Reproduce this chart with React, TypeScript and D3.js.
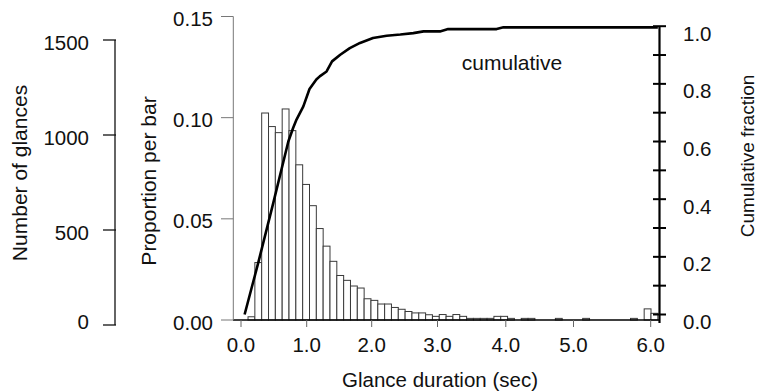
import React from "react";
import * as d3 from "d3";

// Histogram: proportion of glances per 0.1 s bin (bins start at 0.1 s)
const FIRST_BIN = 0.1;
const BIN_WIDTH = 0.1;
const proportions = [
  0.0016, 0.0284, 0.1023, 0.0956, 0.0926, 0.1043, 0.0936, 0.0767, 0.067, 0.0565,
  0.0452, 0.0365, 0.029, 0.022, 0.0196, 0.0168, 0.0158, 0.0105, 0.0097, 0.0079,
  0.0079, 0.0062, 0.0053, 0.0042, 0.0035, 0.0035, 0.0026, 0.0018, 0.0027, 0.0018,
  0.0027, 0.0018, 0.0008, 0.0008, 0.0008, 0.0008, 0.0018, 0.0018, 0.0008, 0,
  0.0008, 0.0008, 0, 0, 0, 0.0008, 0, 0, 0, 0.0008,
  0, 0, 0, 0, 0, 0, 0.0008, 0, 0.0055, 0.0033,
];

// Cumulative curve as drawn
const cumSec = [0.05, 0.25, 0.47, 0.69, 0.76, 0.81, 0.91, 1.0, 1.1, 1.15, 1.25, 1.33, 1.45, 1.59, 1.74, 1.93, 2.13, 2.33, 2.52, 2.67, 2.91, 3.03, 3.74, 3.84, 6.1];
const cumFrac = [0.0, 0.18, 0.387, 0.6, 0.647, 0.676, 0.722, 0.782, 0.815, 0.826, 0.843, 0.878, 0.901, 0.924, 0.942, 0.959, 0.967, 0.971, 0.976, 0.982, 0.982, 0.99, 0.99, 0.996, 0.996];

// Tick labels
const xTicks = [0, 1, 2, 3, 4, 5, 6];
const propTicks = [0, 0.05, 0.1, 0.15];
const countTicks = [0, 500, 1000, 1500];
const cumMajor = [0, 0.2, 0.4, 0.6, 0.8, 1.0];
const cumMinor = [0, 0.1, 0.2, 0.3, 0.4, 0.5, 0.6, 0.7, 0.8, 0.9, 1.0];

const W = 757;
const H = 391;
const FONT = "'Liberation Sans', Arial, Helvetica, sans-serif";

export default function App() {
  const xBar = d3.scaleLinear().domain([0, 6]).range([241.2, 651]);
  // the printed axis ticks are unevenly spaced in the reference
  const xTick = d3.scaleLinear().domain(xTicks).range([241, 306.7, 371.7, 437.5, 505.8, 573.5, 650.7]);
  const yProp = d3.scaleLinear().domain([0, 0.15]).range([320, 16.5]);
  const yCount = d3.scaleLinear().domain([0, 1500]).range([325, 40]);
  const yCum = d3.scaleLinear().domain([0, 1]).range([314.5, 26.2]);

  const line = d3
    .line<number>()
    .x((_, i) => xBar(cumSec[i]))
    .y((d) => yCum(d))
    .curve(d3.curveLinear);

  const bars = proportions.map((p, i) => ({ x0: FIRST_BIN + i * BIN_WIDTH, p }));

  return (
    <svg width={W} height={H} style={{ position: "absolute", left: 0, top: 0, background: "#fff" }} fontFamily={FONT}>
      {/* bars */}
      <g>
        {bars.filter((b) => b.p > 0).map((b, i) => (
          <rect
            key={i}
            x={xBar(b.x0)}
            y={yProp(b.p)}
            width={xBar(b.x0 + BIN_WIDTH) - xBar(b.x0)}
            height={yProp(0) - yProp(b.p)}
            fill="#fff"
            stroke="#3a3a3a"
            strokeWidth={1}
          />
        ))}
      </g>

      {/* x axis */}
      <line x1={233} x2={660} y1={yProp(0)} y2={yProp(0)} stroke="#000" strokeWidth={1.5} />
      {xTicks.map((t) => (
        <g key={t}>
          <line x1={xTick(t)} x2={xTick(t)} y1={yProp(0)} y2={yProp(0) + 7} stroke="#666" strokeWidth={1} />
          <text x={xTick(t)} y={344} textAnchor="middle" dominantBaseline="central" fontSize={20.5} fill="#111">
            {t.toFixed(1)}
          </text>
        </g>
      ))}
      <text x={440} y={379} textAnchor="middle" dominantBaseline="central" fontSize={20.5} fill="#111">
        Glance duration (sec)
      </text>

      {/* proportion axis */}
      <line x1={233.3} x2={233.3} y1={yProp(0.15)} y2={yProp(0)} stroke="#777" strokeWidth={1} />
      {propTicks.map((t) => (
        <g key={t}>
          <line x1={221} x2={233.3} y1={yProp(t)} y2={yProp(t)} stroke="#777" strokeWidth={1} />
          <text x={213} y={yProp(t) + 2} textAnchor="end" dominantBaseline="central" fontSize={20.5} fill="#111">
            {t.toFixed(2)}
          </text>
        </g>
      ))}
      <text
        transform={`translate(148,181) rotate(-90)`}
        textAnchor="middle"
        dominantBaseline="central"
        fontSize={21}
        fill="#111"
      >
        Proportion per bar
      </text>

      {/* count axis */}
      <line x1={115} x2={115} y1={yCount(1500)} y2={yCount(0)} stroke="#111" strokeWidth={1.3} />
      {countTicks.map((t) => (
        <g key={t}>
          <line x1={103} x2={116} y1={yCount(t)} y2={yCount(t)} stroke="#111" strokeWidth={1.3} />
          <text x={89} y={yCount(t) + (t === 0 ? -4 : 2)} textAnchor="end" dominantBaseline="central" fontSize={20.5} fill="#111">
            {t}
          </text>
        </g>
      ))}
      <text
        transform={`translate(19,173) rotate(-90)`}
        textAnchor="middle"
        dominantBaseline="central"
        fontSize={21}
        fill="#111"
      >
        Number of glances
      </text>

      {/* cumulative curve */}
      <path d={line(cumFrac) || ""} fill="none" stroke="#000" strokeWidth={2.6} strokeLinejoin="round" />
      <text x={512} y={62} textAnchor="middle" dominantBaseline="central" fontSize={21} fill="#111">
        cumulative
      </text>

      {/* cumulative axis */}
      <line x1={659.5} x2={659.5} y1={yCum(1)} y2={323} stroke="#000" strokeWidth={2.2} />
      {cumMinor.map((t) => (
        <line key={t} x1={653} x2={666} y1={yCum(t)} y2={yCum(t)} stroke="#000" strokeWidth={2} />
      ))}
      {cumMajor.map((t) => (
        <text key={t} x={683} y={yCum(t) + 7} textAnchor="start" dominantBaseline="central" fontSize={20.5} fill="#111">
          {t.toFixed(1)}
        </text>
      ))}
      <text
        transform={`translate(747,156) rotate(-90)`}
        textAnchor="middle"
        dominantBaseline="central"
        fontSize={19}
        fill="#111"
      >
        Cumulative fraction
      </text>
    </svg>
  );
}
